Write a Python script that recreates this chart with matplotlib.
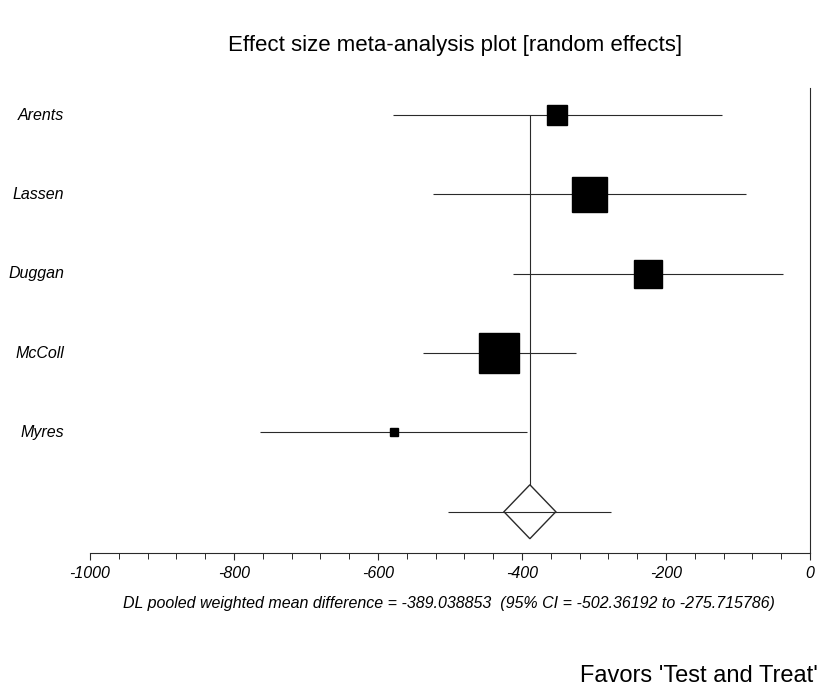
import matplotlib.pyplot as plt
from matplotlib.ticker import MultipleLocator

# study data
studies = ['Arents', 'Lassen', 'Duggan', 'McColl', 'Myres']
estimates = [-351, -307, -225, -432, -578]
ci_low = [-579, -524, -412, -537, -764]
ci_high = [-122, -89, -37, -325, -393]
box_px = [20, 35, 28, 40, 8]  # square size in pixels (weights)

pooled = -389.038853
pooled_low = -502.36192
pooled_high = -275.715786

plt.rcParams['font.family'] = ['Liberation Sans', 'DejaVu Sans']

fig = plt.figure(figsize=(8.21, 6.85), dpi=100)
ax = fig.add_axes([0.1096, 0.1927, 0.877, 0.6788])

line_col = '#2a2a2a'
ys = list(range(len(studies), 0, -1))

for y, est, lo, hi, s in zip(ys, estimates, ci_low, ci_high, box_px):
    ax.hlines(y, lo, hi, color=line_col, lw=0.8)
    ax.plot(est, y, marker='s', markersize=s * 72 / 100, color='black', zorder=3)

# pooled estimate
dh_x = 36     # diamond half width (data units)
dh_y = 0.34   # diamond half height (row units)
ax.hlines(0, pooled_low, pooled_high, color=line_col, lw=0.8)
ax.fill([pooled - dh_x, pooled, pooled + dh_x, pooled],
        [0, dh_y, 0, -dh_y], facecolor='white', edgecolor=line_col, lw=1.0, zorder=3)
ax.hlines(0, pooled - dh_x, pooled + dh_x, color=line_col, lw=0.8, zorder=4)
ax.vlines(pooled, dh_y, ys[0], color=line_col, lw=0.8)

ax.set_xlim(-1000, 0)
ax.set_ylim(-0.52, 5.34)

ax.spines['top'].set_visible(False)
ax.spines['left'].set_visible(False)
ax.spines['right'].set_color(line_col)
ax.spines['right'].set_linewidth(0.8)
ax.spines['bottom'].set_color(line_col)
ax.spines['bottom'].set_linewidth(0.8)

ax.set_yticks([])
ax.xaxis.set_major_locator(MultipleLocator(200))
ax.xaxis.set_minor_locator(MultipleLocator(40))
ax.tick_params(axis='x', which='major', direction='out', length=5, width=0.8,
               color=line_col, labelsize=11.5, pad=4)
ax.tick_params(axis='x', which='minor', direction='out', length=4, width=0.7, color=line_col)
ax.set_xticks([-1000, -800, -600, -400, -200, 0])
ax.set_xticklabels(['-1000', '-800', '-600', '-400', '-200', '0'], fontstyle='italic')

for y, name in zip(ys, studies):
    ax.text(-1036, y, name, ha='right', va='center', fontsize=11.5,
            fontstyle='italic', clip_on=False)

fig.text(0.554, 0.933, 'Effect size meta-analysis plot [random effects]',
         ha='center', va='center', fontsize=16)
fig.text(0.547, 0.119,
         'DL pooled weighted mean difference = %.6f  (95%% CI = %.5f to %.6f)'
         % (pooled, pooled_low, pooled_high),
         ha='center', va='center', fontsize=11.5, fontstyle='italic')
fig.text(0.996, 0.005, "Favors 'Test and Treat'", ha='right', va='baseline',
         fontsize=17)

fig.savefig('out.png', dpi=100)
